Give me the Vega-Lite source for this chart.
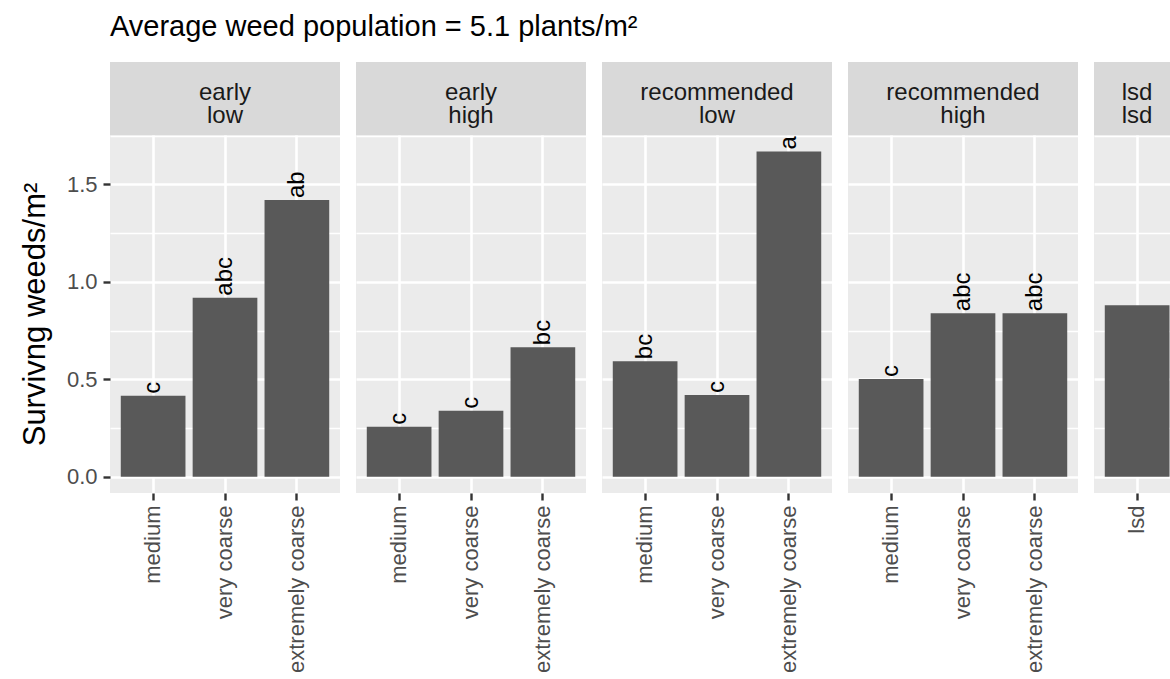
{
  "$schema": "https://vega.github.io/schema/vega-lite/v6.json",
  "autosize": {"type": "none"},
  "padding": {"left": 110, "top": 62, "right": 1060, "bottom": 617},
  "background": "#FFFFFF",
  "title": {
    "text": "Average weed population = 5.1 plants/m²",
    "anchor": "start",
    "frame": "group",
    "font": "Liberation Sans",
    "fontSize": 29,
    "fontWeight": "normal",
    "color": "#000000",
    "baseline": "alphabetic",
    "offset": 20,
    "dy": 23
  },
  "datasets": {
    "bars": [
      {"panel": "p1", "size": "medium", "weeds": 0.415, "letter": "c"},
      {"panel": "p1", "size": "very coarse", "weeds": 0.919, "letter": "abc"},
      {"panel": "p1", "size": "extremely coarse", "weeds": 1.42, "letter": "ab"},
      {"panel": "p2", "size": "medium", "weeds": 0.256, "letter": "c"},
      {"panel": "p2", "size": "very coarse", "weeds": 0.338, "letter": "c"},
      {"panel": "p2", "size": "extremely coarse", "weeds": 0.665, "letter": "bc"},
      {"panel": "p3", "size": "medium", "weeds": 0.593, "letter": "bc"},
      {"panel": "p3", "size": "very coarse", "weeds": 0.419, "letter": "c"},
      {"panel": "p3", "size": "extremely coarse", "weeds": 1.669, "letter": "a"},
      {"panel": "p4", "size": "medium", "weeds": 0.501, "letter": "c"},
      {"panel": "p4", "size": "very coarse", "weeds": 0.839, "letter": "abc"},
      {"panel": "p4", "size": "extremely coarse", "weeds": 0.839, "letter": "abc"},
      {"panel": "p5", "size": "lsd", "weeds": 0.88, "letter": ""}
    ],
    "strips": [
      {"panel": "p1", "label": "early\nlow"},
      {"panel": "p2", "label": "early\nhigh"},
      {"panel": "p3", "label": "recommended\nlow"},
      {"panel": "p4", "label": "recommended\nhigh"},
      {"panel": "p5", "label": "lsd\nlsd"}
    ]
  },
  "config": {
    "font": "Liberation Sans",
    "view": {"fill": "#EBEBEB", "stroke": null},
    "axis": {
      "domain": false,
      "labelFont": "Liberation Sans",
      "labelFontSize": 22,
      "labelColor": "#4D4D4D",
      "tickColor": "#333333",
      "tickSize": 7,
      "tickWidth": 2.4,
      "gridColor": "#FFFFFF",
      "gridOpacity": 1,
      "titleFont": "Liberation Sans",
      "titleFontSize": 31,
      "titleFontWeight": "normal",
      "titleColor": "#000000"
    }
  },
  "bounds": "full",
  "spacing": 16,
  "hconcat": [
    {
      "bounds": "flush",
      "spacing": 0,
      "vconcat": [
        {
          "data": {"name": "strips"},
          "transform": [{"filter": "datum.panel == 'p1'"}],
          "width": 230, "height": 73,
          "view": {"fill": "#D9D9D9", "stroke": null},
          "mark": {"type": "text", "fontSize": 24, "color": "#1A1A1A", "lineBreak": "\n", "lineHeight": 23, "baseline": "middle", "dy": -6},
          "encoding": {"text": {"field": "label", "type": "nominal"}}
        },
        {
          "data": {"name": "bars"},
          "transform": [{"filter": "datum.panel == 'p1'"}],
          "width": 230, "height": 358,
          "encoding": {
            "x": {"field": "size", "type": "nominal", "sort": ["medium", "very coarse", "extremely coarse"],
                  "scale": {"paddingInner": 0.1, "paddingOuter": 0.15},
                  "axis": {"title": null, "labelAngle": -90, "bandPosition": 0.5, "grid": true, "gridWidth": 2.6, "labelPadding": 5, "labelLimit": 400}},
            "y": {"field": "weeds", "type": "quantitative",
                  "scale": {"domain": [-0.0835, 1.7535], "nice": false, "zero": false},
                  "axis": {"title": "Survivng weeds/m²", "titlePadding": 15, "labelPadding": 6,
                           "values": [0, 0.25, 0.5, 0.75, 1, 1.25, 1.5, 1.75],
                           "labelExpr": "datum.value % 0.5 == 0 ? format(datum.value, '.1f') : ''",
                           "tickOpacity": {"condition": {"test": "datum.value % 0.5 != 0", "value": 0}, "value": 1},
                           "gridWidth": {"condition": {"test": "datum.value % 0.5 != 0", "value": 1.3}, "value": 2.6}}}
          },
          "layer": [
            {"mark": {"type": "bar", "color": "#595959"}, "encoding": {"y2": {"datum": 0}}},
            {"mark": {"type": "text", "angle": 270, "align": "left", "baseline": "middle", "dx": 2, "fontSize": 24, "color": "#000000"},
             "encoding": {"text": {"field": "letter", "type": "nominal"}}}
          ]
        }
      ]
    },
    {
      "bounds": "flush",
      "spacing": 0,
      "vconcat": [
        {
          "data": {"name": "strips"},
          "transform": [{"filter": "datum.panel == 'p2'"}],
          "width": 230, "height": 73,
          "view": {"fill": "#D9D9D9", "stroke": null},
          "mark": {"type": "text", "fontSize": 24, "color": "#1A1A1A", "lineBreak": "\n", "lineHeight": 23, "baseline": "middle", "dy": -6},
          "encoding": {"text": {"field": "label", "type": "nominal"}}
        },
        {
          "data": {"name": "bars"},
          "transform": [{"filter": "datum.panel == 'p2'"}],
          "width": 230, "height": 358,
          "encoding": {
            "x": {"field": "size", "type": "nominal", "sort": ["medium", "very coarse", "extremely coarse"],
                  "scale": {"paddingInner": 0.1, "paddingOuter": 0.15},
                  "axis": {"title": null, "labelAngle": -90, "bandPosition": 0.5, "grid": true, "gridWidth": 2.6, "labelPadding": 5, "labelLimit": 400}},
            "y": {"field": "weeds", "type": "quantitative",
                  "scale": {"domain": [-0.0835, 1.7535], "nice": false, "zero": false},
                  "axis": {"title": null, "labels": false, "ticks": false,
                           "values": [0, 0.25, 0.5, 0.75, 1, 1.25, 1.5, 1.75],
                           "gridWidth": {"condition": {"test": "datum.value % 0.5 != 0", "value": 1.3}, "value": 2.6}}}
          },
          "layer": [
            {"mark": {"type": "bar", "color": "#595959"}, "encoding": {"y2": {"datum": 0}}},
            {"mark": {"type": "text", "angle": 270, "align": "left", "baseline": "middle", "dx": 2, "fontSize": 24, "color": "#000000"},
             "encoding": {"text": {"field": "letter", "type": "nominal"}}}
          ]
        }
      ]
    },
    {
      "bounds": "flush",
      "spacing": 0,
      "vconcat": [
        {
          "data": {"name": "strips"},
          "transform": [{"filter": "datum.panel == 'p3'"}],
          "width": 230, "height": 73,
          "view": {"fill": "#D9D9D9", "stroke": null},
          "mark": {"type": "text", "fontSize": 24, "color": "#1A1A1A", "lineBreak": "\n", "lineHeight": 23, "baseline": "middle", "dy": -6},
          "encoding": {"text": {"field": "label", "type": "nominal"}}
        },
        {
          "data": {"name": "bars"},
          "transform": [{"filter": "datum.panel == 'p3'"}],
          "width": 230, "height": 358,
          "encoding": {
            "x": {"field": "size", "type": "nominal", "sort": ["medium", "very coarse", "extremely coarse"],
                  "scale": {"paddingInner": 0.1, "paddingOuter": 0.15},
                  "axis": {"title": null, "labelAngle": -90, "bandPosition": 0.5, "grid": true, "gridWidth": 2.6, "labelPadding": 5, "labelLimit": 400}},
            "y": {"field": "weeds", "type": "quantitative",
                  "scale": {"domain": [-0.0835, 1.7535], "nice": false, "zero": false},
                  "axis": {"title": null, "labels": false, "ticks": false,
                           "values": [0, 0.25, 0.5, 0.75, 1, 1.25, 1.5, 1.75],
                           "gridWidth": {"condition": {"test": "datum.value % 0.5 != 0", "value": 1.3}, "value": 2.6}}}
          },
          "layer": [
            {"mark": {"type": "bar", "color": "#595959"}, "encoding": {"y2": {"datum": 0}}},
            {"mark": {"type": "text", "angle": 270, "align": "left", "baseline": "middle", "dx": 2, "fontSize": 24, "color": "#000000"},
             "encoding": {"text": {"field": "letter", "type": "nominal"}}}
          ]
        }
      ]
    },
    {
      "bounds": "flush",
      "spacing": 0,
      "vconcat": [
        {
          "data": {"name": "strips"},
          "transform": [{"filter": "datum.panel == 'p4'"}],
          "width": 230, "height": 73,
          "view": {"fill": "#D9D9D9", "stroke": null},
          "mark": {"type": "text", "fontSize": 24, "color": "#1A1A1A", "lineBreak": "\n", "lineHeight": 23, "baseline": "middle", "dy": -6},
          "encoding": {"text": {"field": "label", "type": "nominal"}}
        },
        {
          "data": {"name": "bars"},
          "transform": [{"filter": "datum.panel == 'p4'"}],
          "width": 230, "height": 358,
          "encoding": {
            "x": {"field": "size", "type": "nominal", "sort": ["medium", "very coarse", "extremely coarse"],
                  "scale": {"paddingInner": 0.1, "paddingOuter": 0.15},
                  "axis": {"title": null, "labelAngle": -90, "bandPosition": 0.5, "grid": true, "gridWidth": 2.6, "labelPadding": 5, "labelLimit": 400}},
            "y": {"field": "weeds", "type": "quantitative",
                  "scale": {"domain": [-0.0835, 1.7535], "nice": false, "zero": false},
                  "axis": {"title": null, "labels": false, "ticks": false,
                           "values": [0, 0.25, 0.5, 0.75, 1, 1.25, 1.5, 1.75],
                           "gridWidth": {"condition": {"test": "datum.value % 0.5 != 0", "value": 1.3}, "value": 2.6}}}
          },
          "layer": [
            {"mark": {"type": "bar", "color": "#595959"}, "encoding": {"y2": {"datum": 0}}},
            {"mark": {"type": "text", "angle": 270, "align": "left", "baseline": "middle", "dx": 2, "fontSize": 24, "color": "#000000"},
             "encoding": {"text": {"field": "letter", "type": "nominal"}}}
          ]
        }
      ]
    },
    {
      "bounds": "flush",
      "spacing": 0,
      "vconcat": [
        {
          "data": {"name": "strips"},
          "transform": [{"filter": "datum.panel == 'p5'"}],
          "width": 76, "height": 73,
          "view": {"fill": "#D9D9D9", "stroke": null},
          "mark": {"type": "text", "fontSize": 24, "color": "#1A1A1A", "lineBreak": "\n", "lineHeight": 23, "baseline": "middle", "dy": -6, "dx": 5},
          "encoding": {"text": {"field": "label", "type": "nominal"}}
        },
        {
          "data": {"name": "bars"},
          "transform": [{"filter": "datum.panel == 'p5'"}],
          "width": 76, "height": 358,
          "encoding": {
            "x": {"field": "size", "type": "nominal",
                  "scale": {"paddingInner": 0.1, "paddingOuter": 0.0787, "align": 0.953},
                  "axis": {"title": null, "labelAngle": -90, "bandPosition": 0.5, "grid": true, "gridWidth": 2.6, "labelPadding": 5, "labelLimit": 400}},
            "y": {"field": "weeds", "type": "quantitative",
                  "scale": {"domain": [-0.0835, 1.7535], "nice": false, "zero": false},
                  "axis": {"title": null, "labels": false, "ticks": false,
                           "values": [0, 0.25, 0.5, 0.75, 1, 1.25, 1.5, 1.75],
                           "gridWidth": {"condition": {"test": "datum.value % 0.5 != 0", "value": 1.3}, "value": 2.6}}}
          },
          "layer": [
            {"mark": {"type": "bar", "color": "#595959"}, "encoding": {"y2": {"datum": 0}}}
          ]
        }
      ]
    }
  ]
}
